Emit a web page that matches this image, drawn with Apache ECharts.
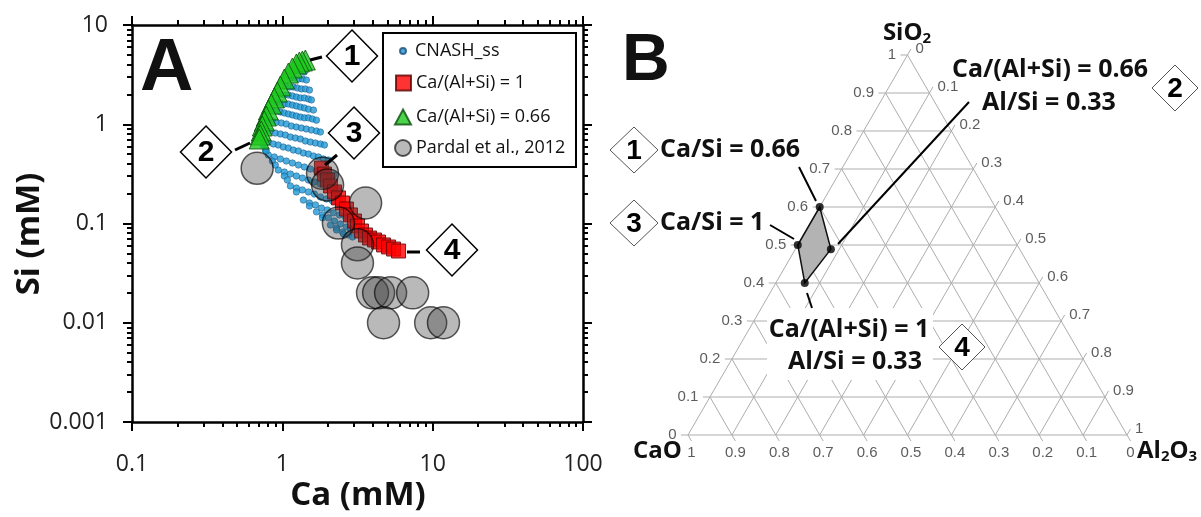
<!DOCTYPE html>
<html><head><meta charset="utf-8">
<script src="https://cdn.jsdelivr.net/npm/echarts@6/dist/echarts.min.js"></script>
<style>html,body{margin:0;padding:0;background:#fff}#c{width:1201px;height:517px}</style>
</head><body><div id="c"></div>
<script>
// ---------------- Panel A data (Ca mM, Si mM) ----------------
const cnashSS = [
 [1.240,3.52],[1.318,3.44],[1.402,3.36],
 [1.131,2.92],[1.202,2.92],[1.279,2.86],[1.359,2.86],[1.445,2.79],
 [1.047,2.43],[1.113,2.37],[1.184,2.37],[1.259,2.32],[1.339,2.27],[1.423,2.27],[1.514,2.21],
 [0.970,2.02],[1.031,1.97],[1.096,1.97],[1.166,1.93],[1.240,1.88],[1.318,1.84],[1.402,1.84],[1.491,1.80],[1.561,1.76],
 [0.912,1.68],[0.970,1.64],[1.031,1.60],[1.096,1.60],[1.166,1.56],[1.240,1.53],[1.318,1.49],[1.402,1.46],[1.491,1.42],[1.610,1.39],
 [0.858,1.39],[0.912,1.36],[0.970,1.33],[1.031,1.30],[1.096,1.27],[1.166,1.24],[1.240,1.21],[1.318,1.18],[1.402,1.16],[1.491,1.16],[1.585,1.13],[1.686,1.10],
 [0.807,1.10],[0.858,1.08],[0.912,1.05],[0.985,1.03],[1.063,1.006],[1.148,0.960],[1.240,0.938],[1.339,0.917],[1.445,0.896],[1.561,0.875],[1.686,0.855],[1.792,0.835],
 [0.770,0.875],[0.832,0.855],[0.898,0.816],[0.970,0.798],[1.047,0.779],[1.131,0.744],[1.221,0.727],[1.318,0.710],[1.423,0.678],[1.537,0.662],[1.660,0.647],[1.792,0.633],[1.905,0.618],
 [0.747,0.694],[0.807,0.662],[0.871,0.633],[0.940,0.618],[1.015,0.590],[1.096,0.576],[1.184,0.550],[1.279,0.538],[1.380,0.513],[1.491,0.501],[1.610,0.479],[1.738,0.468],[1.876,0.447],[2.026,0.436],
 [0.807,0.490],[0.885,0.468],[0.970,0.447],[1.063,0.426],[1.166,0.407],[1.279,0.388],[1.402,0.371],[1.537,0.354],[1.686,0.338],[1.848,0.323],[2.026,0.315],[2.188,0.308],
 [0.940,0.346],[1.031,0.330],[1.131,0.315],[1.240,0.301],[1.359,0.287],[1.491,0.274],[1.634,0.262],[1.792,0.250],[1.965,0.239],[2.154,0.228],[2.362,0.218],
 [1.131,0.239],[1.240,0.228],[1.359,0.218],[1.491,0.208],[1.634,0.198],[1.792,0.185],[1.965,0.177],[2.154,0.169],[2.362,0.161],[2.551,0.154],
 [1.380,0.172],[1.514,0.161],[1.660,0.154],[1.820,0.143],[1.995,0.137],[2.188,0.128],[2.399,0.122],[2.630,0.116],
 [1.686,0.131],[1.848,0.122],[2.026,0.114],[2.222,0.106],[2.436,0.0989],[2.671,0.0922],[2.840,0.0880],
 [2.089,0.0966],[2.291,0.0901],[2.512,0.0821],[2.754,0.0766],[2.929,0.0731],
 [0.747,0.618],[0.770,0.550],[0.782,0.538],[0.858,0.426],[0.898,0.388],[1.031,0.301],[1.080,0.274],[1.240,0.208],[1.514,0.150],[1.848,0.114],[2.291,0.0860],[2.551,0.0784]
];
const caAlSi1 = [
 [1.820,0.362],[1.905,0.315],[1.995,0.274],[2.089,0.239],[2.223,0.208],[2.363,0.181],[2.512,0.161],[2.671,0.140],[2.840,0.122],[3.020,0.106],
 [3.162,0.0944],[3.362,0.0840],[3.574,0.0766],[3.802,0.0714],[4.105,0.0682],[4.365,0.0651],[4.714,0.0608],[5.09,0.0580],[5.495,0.0553],[5.93,0.0528]
];
const caAlSi066 = [
 [1.423,4.44],[1.359,4.34],[1.298,4.24],[1.240,4.05],[1.166,3.69],[1.096,3.28],[1.031,2.86],[0.970,2.43],[0.926,2.11],
 [0.885,1.84],[0.845,1.60],[0.807,1.39],[0.782,1.21],[0.759,1.08],[0.736,0.960],[0.724,0.855],[0.713,0.779],[0.702,0.710]
];
const pardal2012 = [
 [0.68,0.36],[1.85,0.32],[2.0,0.244],[3.58,0.161],[2.36,0.101],[3.16,0.061],[3.16,0.040],
 [3.98,0.020],[4.37,0.020],[5.25,0.020],[7.36,0.020],[4.71,0.010],[9.7,0.010],[11.8,0.010]
];
const seriesNames = ['CNASH_ss','Ca/(Al+Si) = 1','Ca/(Al+Si) = 0.66','Pardal et al., 2012'];
const xMajorTicks = [0.1,1,10,100];
const xMajorLabels = ['0.1','1','10','100'];
const xMinorTicks = [0.2,0.3,0.4,0.5,0.6,0.7,0.8,0.9,2,3,4,5,6,7,8,9,20,30,40,50,60,70,80,90];
const yMajorTicks = [0.001,0.01,0.1,1,10];
const yMajorLabels = ['0.001','0.01','0.1','1','10'];
const yMinorTicks = [0.002,0.003,0.004,0.005,0.006,0.007,0.008,0.009,0.02,0.03,0.04,0.05,0.06,0.07,0.08,0.09,0.2,0.3,0.4,0.5,0.6,0.7,0.8,0.9,2,3,4,5,6,7,8,9];

// ---------------- Panel B data (ternary CaO–SiO2–Al2O3) ----------------
const ternaryTicks = [0,0.1,0.2,0.3,0.4,0.5,0.6,0.7,0.8,0.9,1];
const ternaryTickLabels = ['0','0.1','0.2','0.3','0.4','0.5','0.6','0.7','0.8','0.9','1'];
const regionCaO   = [0.40, 0.43, 0.534, 0.50];
const regionSiO2  = [0.60, 0.489, 0.40, 0.50];
const regionAl2O3 = [0.00, 0.081, 0.066, 0.00];

// ternary -> cartesian (x along CaO->Al2O3 base, y = SiO2 height)
function tern(c, s, a) { const t = c + s + a; s /= t; a /= t; return [a + s / 2, s]; }
const TK = 0.016;
const gridSegs = [];
ternaryTicks.forEach(v => {
  const l = tern(1 - v, v, 0), r = tern(0, v, 1 - v);
  gridSegs.push([l[0] - TK, l[1], v < 1 ? r[0] : l[0], r[1]]);           // SiO2 = v
  const b = tern(1 - v, 0, v), re = tern(0, 1 - v, v);
  gridSegs.push([b[0], b[1], re[0] + TK / 2, re[1] + TK]);                 // Al2O3 = v
  const le = tern(v, 1 - v, 0), bo = tern(v, 0, 1 - v);
  gridSegs.push([le[0], le[1], bo[0] + TK / 2, bo[1] - TK]);               // CaO = v
});
const leftLabels = ternaryTicks.map((v, i) => { const p = tern(1 - v, v, 0); return {name: ternaryTickLabels[i], value: [p[0] - TK, p[1]]}; });
const rightLabels = ternaryTicks.map((v, i) => { const p = tern(0, 1 - v, v); return {name: ternaryTickLabels[i], value: [p[0] + TK / 2, p[1] + TK]}; });
const bottomLabels = ternaryTicks.map((v, i) => { const p = tern(v, 0, 1 - v); return {name: ternaryTickLabels[i], value: [p[0] + TK / 2, p[1] - TK]}; });
const regionXY = regionCaO.map((c, i) => tern(c, regionSiO2[i], regionAl2O3[i]));

const chart = echarts.init(document.getElementById('c'), null, {renderer: 'canvas'});
const TF = '"Open Sans", "Liberation Sans", sans-serif';
const AF = '"Liberation Sans", Arial, sans-serif';

function logAxis(pos, ticks, len, showLine, labels) {
  const isX = pos === 'bottom' || pos === 'top';
  const ax = {
    type: 'log', logBase: 10, gridIndex: 0, position: pos,
    min: isX ? 0.1 : 0.001, max: isX ? 100 : 10,
    axisLine: {show: showLine, onZero: false, lineStyle: {color: '#000', width: 2.5}},
    axisTick: {show: true, customValues: ticks, length: len, inside: false, lineStyle: {color: '#000', width: 2}},
    axisLabel: {show: false},
    splitLine: {show: false}, minorTick: {show: false}
  };
  if (labels) {
    ax.axisLabel = {show: true, customValues: ticks, margin: isX ? 31 : 24, fontSize: 23, fontFamily: TF, color: '#222',
      formatter: v => { const i = ticks.findIndex(t => Math.abs(Math.log10(t) - Math.log10(v)) < 1e-6); return i >= 0 ? labels[i] : ''; }};
  }
  return ax;
}

function diamond(cx, cy, w, h, num, font, stroke, lw) {
  return [
    {type: 'polygon', z: 100, shape: {points: [[cx, cy - h / 2], [cx + w / 2, cy], [cx, cy + h / 2], [cx - w / 2, cy]]},
     style: {fill: '#fff', stroke: stroke, lineWidth: lw}},
    {type: 'text', z: 101, x: cx, y: cy + 1, style: {text: num, font: font, fill: '#000', textAlign: 'center', textVerticalAlign: 'middle'}}
  ];
}
function line(x1, y1, x2, y2, w) { return {type: 'line', z: 100, shape: {x1, y1, x2, y2}, style: {stroke: '#000', lineWidth: w}}; }
function txt(x, y, t, font, align) { return {type: 'text', z: 101, x, y, style: {text: t, font, fill: '#111', textAlign: align || 'left', textVerticalAlign: 'middle'}}; }

const BF = 'bold 25px "Open Sans", sans-serif';
const graphics = [].concat(
  [txt(140, 70, 'A', 'bold 74px "Liberation Sans", Arial, sans-serif')],
  [txt(622, 62, 'B', 'bold 66px "Liberation Sans", Arial, sans-serif')],
  diamond(352, 56, 51, 52, '1', 'bold 30px "Liberation Sans", Arial', '#000', 1.5),
  diamond(206, 152, 51, 52, '2', 'bold 30px "Liberation Sans", Arial', '#000', 1.5),
  diamond(354, 133, 51, 52, '3', 'bold 30px "Liberation Sans", Arial', '#000', 1.5),
  diamond(452, 250, 51, 52, '4', 'bold 30px "Liberation Sans", Arial', '#000', 1.5),
  [line(310, 60, 322, 57, 3), line(235, 150, 250, 143, 3), line(325, 165, 337, 155, 3), line(407, 252, 420, 252, 3)],
  [{type: 'rect', z: 50, shape: {x: 383, y: 33, width: 193, height: 134}, style: {fill: 'none', stroke: '#000', lineWidth: 2}}],
  // Panel B annotations
  diamond(634, 150, 48, 46, '1', 'bold 28px "Liberation Sans", Arial', '#555', 1),
  diamond(634, 223, 48, 46, '3', 'bold 28px "Liberation Sans", Arial', '#555', 1),
  diamond(1175, 88, 46, 46, '2', 'bold 28px "Liberation Sans", Arial', '#555', 1),
  diamond(962, 347, 46, 46, '4', 'bold 28px "Liberation Sans", Arial', '#555', 1),
  [txt(660, 150, 'Ca/Si = 0.66', BF), txt(660, 223, 'Ca/Si = 1', BF),
   txt(952, 70, 'Ca/(Al+Si) = 0.66', BF), txt(982, 103, 'Al/Si = 0.33', BF)],
  [{type: 'rect', z: 99, shape: {x: 767, y: 308, width: 166, height: 72}, style: {fill: '#fff'}},
   txt(849, 330, 'Ca/(Al+Si) = 1', BF, 'center'), txt(855, 362, 'Al/Si = 0.33', BF, 'center')],
  [line(799, 167, 816, 201, 2), line(770, 225, 794, 239, 2), line(838, 244, 969, 102, 2), line(807, 293, 812, 308, 2)],
  [{type: 'text', z: 101, x: 907, y: 33, style: {text: '{a|SiO}{b|2}', textAlign: 'center', textVerticalAlign: 'middle',
     rich: {a: {fontSize: 24, fontWeight: 'bold', fontFamily: 'Open Sans', fill: '#111'}, b: {fontSize: 15, fontWeight: 'bold', fontFamily: 'Open Sans', fill: '#111', padding: [12, 0, 0, 0]}}}},
   txt(633, 451, 'CaO', 'bold 24px "Open Sans", sans-serif'),
   {type: 'text', z: 101, x: 1137, y: 451, style: {text: '{a|Al}{b|2}{a|O}{b|3}', textAlign: 'left', textVerticalAlign: 'middle',
     rich: {a: {fontSize: 24, fontWeight: 'bold', fontFamily: 'Open Sans', fill: '#111'}, b: {fontSize: 15, fontWeight: 'bold', fontFamily: 'Open Sans', fill: '#111', padding: [12, 0, 0, 0]}}}}
  ],
  [{type: 'text', z: 101, x: 30, y: 234, rotation: Math.PI / 2, style: {text: 'Si (mM)', font: 'bold 33px "Open Sans", sans-serif', fill: '#111', textAlign: 'center', textVerticalAlign: 'middle'}},
   txt(358, 496, 'Ca (mM)', 'bold 33px "Open Sans", sans-serif', 'center')]
);

const ternLabel = (data, pos, dist) => ({
  type: 'scatter', xAxisIndex: 4, yAxisIndex: 4, data, symbolSize: 1, clip: false, silent: true,
  itemStyle: {color: 'rgba(0,0,0,0)'},
  label: {show: true, position: pos, distance: dist, formatter: '{b}', fontSize: 15, fontFamily: AF, color: '#333'}
});

function legend(name, left, top, w, h, icon, extra) {
  return Object.assign({data: [{name, icon}], left, top, itemWidth: w, itemHeight: h, padding: 0, orient: 'vertical', selectedMode: false,
    textStyle: {fontSize: 18, fontFamily: TF, color: '#111', lineHeight: 22}}, extra || {});
}

chart.setOption({
  animation: false,
  backgroundColor: '#fff',
  grid: [
    {left: 132, top: 25, width: 451, height: 397, containLabel: false},
    {left: 688, top: 55, width: 439, height: 380, containLabel: false}
  ],
  xAxis: [
    logAxis('bottom', xMajorTicks, 9, true, xMajorLabels),
    logAxis('top', xMajorTicks, 9, true, null),
    logAxis('bottom', xMinorTicks, 5, false, null),
    logAxis('top', xMinorTicks, 5, false, null),
    {type: 'value', gridIndex: 1, min: 0, max: 1, show: false}
  ],
  yAxis: [
    logAxis('left', yMajorTicks, 9, true, yMajorLabels),
    logAxis('right', yMajorTicks, 9, true, null),
    logAxis('left', yMinorTicks, 5, false, null),
    logAxis('right', yMinorTicks, 5, false, null),
    {type: 'value', gridIndex: 1, min: 0, max: 1, show: false}
  ],
  legend: [
    legend(seriesNames[0], 399, 40, 6, 6, 'circle', {textStyle: {fontSize: 18, fontFamily: TF, color: '#111', lineHeight: 22, padding: [0, 0, 0, 4]}}),
    legend(seriesNames[1], 395, 72, 15, 15, 'rect'),
    legend(seriesNames[2], 394, 106, 16, 15, 'triangle'),
    legend(seriesNames[3], 394, 137, 16, 16, 'circle')
  ],
  graphic: {elements: graphics},
  series: [
    {name: seriesNames[0], type: 'scatter', xAxisIndex: 0, yAxisIndex: 0, data: cnashSS, symbol: 'circle', symbolSize: 6.5,
     itemStyle: {color: '#1f9ad6', borderColor: '#1b4d7a', borderWidth: 0.6}},
    {name: seriesNames[1], type: 'scatter', xAxisIndex: 0, yAxisIndex: 0, data: caAlSi1, symbol: 'rect', symbolSize: 14,
     itemStyle: {color: '#ff0000', borderColor: '#5a0000', borderWidth: 1}},
    {name: seriesNames[2], type: 'scatter', xAxisIndex: 0, yAxisIndex: 0, data: caAlSi066, symbol: 'triangle', symbolSize: 20,
     itemStyle: {color: '#1ec81e', borderColor: '#0b4d0b', borderWidth: 1}},
    {name: seriesNames[3], type: 'scatter', xAxisIndex: 0, yAxisIndex: 0, data: pardal2012, symbol: 'circle', symbolSize: 32,
     itemStyle: {color: 'rgba(60,60,60,0.45)', borderColor: 'rgba(0,0,0,0.8)', borderWidth: 1.5}},
    // Panel B
    {type: 'custom', xAxisIndex: 4, yAxisIndex: 4, data: gridSegs, encode: {x: [0, 2], y: [1, 3]}, silent: true, z: 1,
     renderItem: (p, api) => {
       const a = api.coord([api.value(0), api.value(1)]), b = api.coord([api.value(2), api.value(3)]);
       return {type: 'line', shape: {x1: a[0], y1: a[1], x2: b[0], y2: b[1]}, style: {stroke: '#adadad', lineWidth: 1}};
     }},
    {type: 'custom', xAxisIndex: 4, yAxisIndex: 4, data: regionXY, silent: true, z: 3,
     renderItem: (p, api) => {
       if (p.dataIndex !== 0) return null;
       const pts = regionXY.map(q => api.coord(q));
       return {type: 'polygon', shape: {points: pts}, style: {fill: '#b3b3b3', stroke: '#111', lineWidth: 1.5}};
     }},
    {type: 'scatter', xAxisIndex: 4, yAxisIndex: 4, data: regionXY, symbolSize: 8, z: 4, silent: true,
     itemStyle: {color: '#000'}},
    ternLabel(leftLabels, 'left', 4),
    ternLabel(rightLabels, 'right', 4),
    ternLabel(bottomLabels, 'bottom', 4)
  ]
});
</script></body></html>
